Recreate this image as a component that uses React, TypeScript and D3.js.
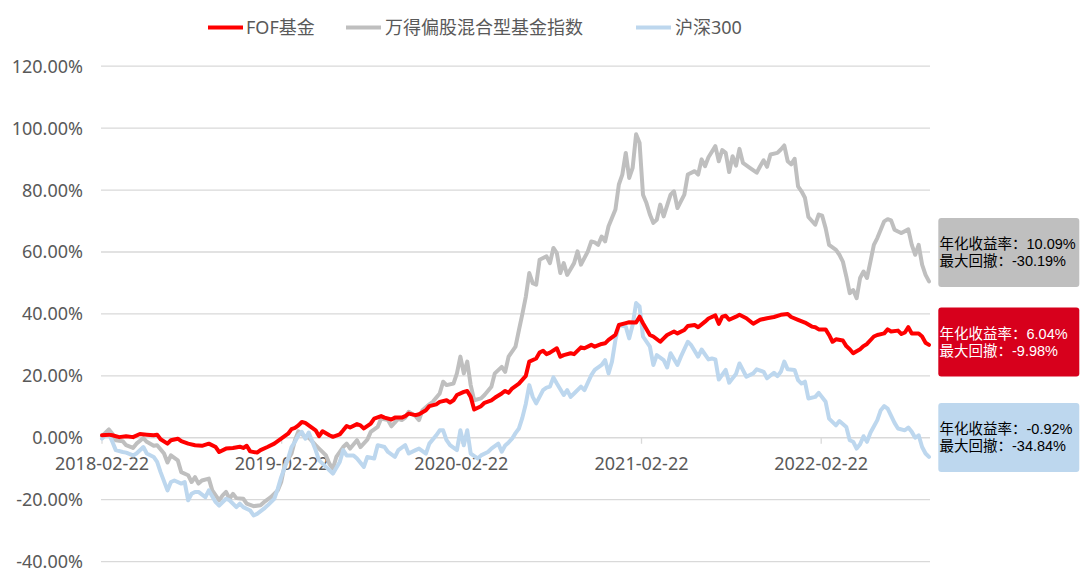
import React from 'react';
import * as d3 from 'd3';

// ---------- data ----------
const seriesNames = ['FOF基金', '万得偏股混合型基金指数', '沪深300'];
const seriesColors = ['#ff0000', '#bfbfbf', '#bdd7ee'];
const startDate = '2018-02-22';
const xTickLabels = ['2018-02-22', '2019-02-22', '2020-02-22', '2021-02-22', '2022-02-22'];
const yTickValues = [-40, -20, 0, 20, 40, 60, 80, 100, 120];

// [weeks since 2018-02-22, cumulative return %]
const fofSeries: [number, number][] = [
  [0,0.8],[2,1.0],[3,0.8],[5,0.2],[7,0.5],[9,0.2],[11,1.2],[13,1.0],[15,0.8],[16,1.0],[17,-0.5],[19,-1.9],[20,-0.8],[22,-0.3],[23,-1.1],[25,-1.9],[27,-2.4],[29,-2.6],[31,-1.9],[33,-3.0],[34,-4.6],[36,-3.5],[38,-3.3],[40,-2.9],[41,-3.3],[42,-2.6],[43,-4.4],[45,-4.8],[46,-4.0],[48,-3.0],[50,-1.9],[52,-0.3],[54,1.3],[55,2.8],[56,3.2],[57,4.0],[58,5.1],[59,4.8],[60,4.0],[62,2.4],[63,0.5],[64,2.1],[66,0.8],[67,0.3],[69,1.1],[70,2.4],[71,3.8],[72,3.3],[74,4.4],[75,4.0],[76,3.0],[78,4.6],[79,6.2],[81,7.0],[82,6.5],[84,5.9],[85,6.5],[87,6.5],[88,7.0],[89,7.8],[91,7.3],[92,7.6],[94,8.9],[95,10.2],[97,10.8],[98,11.6],[100,12.1],[101,11.4],[102,12.1],[103,13.8],[105,14.8],[106,15.1],[107,13.2],[108,9.1],[110,10.2],[111,11.3],[113,12.1],[114,12.9],[116,14.3],[117,15.1],[118,14.5],[119,15.9],[121,17.5],[123,20.0],[124,24.6],[126,25.6],[127,27.5],[128,28.1],[129,27.0],[130,27.5],[132,28.9],[133,26.2],[134,26.7],[136,27.3],[137,27.0],[139,29.2],[140,28.9],[142,30.0],[143,29.4],[145,30.3],[146,30.5],[147,31.6],[149,33.2],[150,36.4],[152,37.0],[153,37.3],[155,37.2],[156,39.1],[157,37.0],[159,33.2],[160,32.7],[162,31.0],[163,32.1],[164,33.2],[166,34.3],[167,33.7],[169,34.8],[170,36.1],[172,36.4],[173,35.7],[175,37.5],[176,38.5],[178,39.5],[179,36.8],[180,39.1],[181,39.4],[182,38.1],[184,39.1],[185,39.7],[187,38.6],[189,36.8],[191,38.1],[193,38.6],[195,39.0],[197,39.7],[199,40.0],[200,39.0],[202,38.1],[204,37.2],[206,35.9],[207,35.7],[208,35.0],[210,35.0],[211,33.2],[212,31.0],[213,31.8],[215,31.4],[216,29.6],[217,28.6],[218,27.3],[220,28.6],[221,29.6],[222,30.3],[224,32.7],[225,33.2],[227,33.7],[228,35.0],[229,34.3],[231,34.6],[232,33.5],[233,34.0],[234,35.7],[235,33.7],[237,33.7],[238,32.7],[239,30.7],[240,30.0]
];

const windSeries: [number, number][] = [
  [0,0.5],[2,2.7],[3,1.3],[4,-0.8],[6,-1.1],[7,-2.4],[9,-3.3],[10,-1.9],[12,-0.1],[13,-1.3],[15,-2.6],[16,-2.4],[18,-5.1],[19,-8.0],[20,-5.7],[22,-7.3],[23,-11.1],[25,-12.1],[26,-14.3],[27,-12.7],[28,-14.8],[29,-13.8],[31,-13.2],[32,-17.0],[34,-20.2],[35,-18.6],[36,-17.5],[37,-19.7],[38,-18.1],[39,-19.5],[41,-19.7],[42,-21.3],[44,-22.1],[46,-21.8],[47,-20.8],[49,-19.2],[51,-17.0],[52,-14.3],[53,-8.9],[55,-5.1],[56,-0.8],[57,2.1],[59,0.3],[60,0.0],[61,-1.2],[62,-2.4],[63,-3.5],[65,-5.7],[66,-8.4],[67,-10.0],[68,-6.2],[70,-3.0],[71,-1.9],[72,-3.5],[74,-0.8],[75,-3.0],[77,-0.6],[78,1.9],[80,3.5],[81,6.2],[83,5.7],[84,3.7],[86,6.2],[87,5.7],[88,6.5],[89,8.4],[91,7.0],[92,5.7],[93,8.9],[95,10.8],[96,11.6],[98,14.3],[99,18.1],[100,17.0],[102,17.5],[103,20.8],[104,26.2],[105,20.8],[106,24.6],[107,17.0],[108,12.1],[110,12.7],[111,13.8],[113,16.5],[114,20.8],[116,22.9],[117,21.3],[118,26.2],[120,29.4],[121,34.8],[122,40.0],[123,45.6],[124,53.2],[125,49.9],[126,49.4],[127,57.5],[129,58.6],[130,56.4],[131,61.3],[132,59.6],[133,53.2],[134,56.4],[135,52.6],[137,56.4],[138,60.2],[139,55.9],[141,60.2],[142,63.4],[143,63.1],[144,62.3],[145,65.0],[146,63.4],[147,68.3],[149,73.7],[150,81.8],[151,85.0],[152,92.0],[153,83.9],[154,87.2],[155,98.0],[156,95.3],[157,78.5],[158,75.8],[159,72.1],[160,69.4],[161,70.4],[162,75.3],[163,71.5],[165,78.5],[166,79.6],[167,74.2],[169,78.5],[170,85.0],[172,86.1],[173,85.0],[174,89.9],[175,87.7],[176,90.6],[178,94.2],[179,89.3],[180,92.9],[181,92.0],[182,85.8],[183,90.9],[184,87.9],[185,93.3],[186,88.8],[188,87.2],[190,85.6],[191,87.7],[192,89.6],[193,87.5],[194,91.5],[196,92.0],[197,93.1],[198,94.4],[199,89.3],[200,88.3],[201,90.1],[202,81.2],[203,79.6],[204,77.5],[205,71.3],[207,68.8],[208,72.1],[209,71.7],[210,67.7],[211,62.3],[213,60.7],[214,59.1],[215,56.9],[216,52.1],[217,46.7],[218,47.7],[219,45.1],[220,51.6],[221,53.7],[222,51.6],[223,56.9],[224,62.3],[225,64.5],[227,69.9],[228,70.6],[229,70.2],[230,67.2],[231,66.6],[232,66.1],[234,67.3],[235,62.3],[236,59.1],[237,62.3],[238,55.9],[239,52.6],[240,50.5]
];

const hs300Series: [number, number][] = [
  [0,-0.3],[1,0.8],[2,1.3],[3,-1.3],[4,-4.0],[6,-4.6],[7,-4.8],[9,-5.7],[10,-5.1],[12,-3.0],[13,-5.1],[15,-6.2],[16,-7.8],[17,-11.1],[19,-17.0],[20,-14.3],[21,-13.8],[23,-14.8],[24,-14.3],[25,-20.2],[26,-18.1],[27,-17.5],[28,-17.5],[30,-19.2],[31,-17.0],[33,-20.8],[34,-21.9],[36,-19.7],[37,-20.2],[39,-22.4],[40,-21.3],[41,-22.4],[43,-23.5],[44,-25.1],[45,-24.6],[47,-22.9],[48,-21.9],[50,-19.7],[51,-16.5],[52,-12.7],[54,-6.7],[55,-3.0],[56,-1.3],[57,0.8],[58,1.9],[59,-0.3],[60,1.7],[62,-4.0],[63,-7.3],[65,-9.4],[66,-10.5],[67,-11.6],[69,-7.8],[70,-4.0],[71,-5.7],[73,-5.7],[74,-6.7],[76,-9.4],[77,-6.2],[79,-6.7],[80,-2.4],[82,-3.0],[83,-4.6],[85,-6.2],[86,-4.0],[88,-2.4],[89,-5.1],[91,-4.0],[92,-3.5],[94,-5.1],[95,-1.9],[97,0.8],[98,2.4],[99,2.4],[100,-0.8],[101,-2.4],[103,-4.0],[104,2.4],[105,-2.4],[106,2.4],[107,-5.1],[109,-6.7],[110,-5.7],[112,-4.6],[113,-3.5],[115,-1.9],[116,-4.5],[117,-2.5],[118,-1.5],[119,-0.3],[120,1.5],[121,3.0],[122,6.5],[123,11.0],[124,17.0],[125,13.2],[126,11.1],[128,15.4],[129,16.2],[130,16.5],[131,19.5],[132,17.5],[134,13.8],[135,15.4],[136,13.2],[137,14.3],[139,16.5],[140,15.4],[142,20.2],[143,21.9],[145,23.5],[146,25.1],[147,20.8],[148,24.6],[149,31.6],[150,36.4],[152,35.9],[153,32.1],[154,36.4],[155,43.5],[156,42.4],[157,32.7],[159,29.4],[160,23.5],[161,26.7],[163,25.1],[164,22.7],[165,27.3],[167,23.5],[168,26.2],[170,31.0],[171,29.9],[173,26.2],[174,28.5],[176,25.3],[177,25.6],[178,25.3],[179,18.8],[181,21.9],[182,17.8],[183,19.2],[184,20.6],[185,24.0],[187,19.7],[189,20.8],[190,22.1],[192,21.3],[193,19.2],[195,21.0],[196,19.9],[197,21.3],[198,24.6],[199,22.1],[201,21.9],[202,18.6],[203,17.5],[204,18.1],[205,12.7],[207,13.2],[208,14.5],[210,11.6],[211,6.2],[213,4.0],[214,5.4],[216,3.5],[217,-0.8],[218,-1.3],[219,-3.5],[220,-2.1],[221,0.5],[222,-1.3],[223,1.6],[225,5.7],[226,8.9],[227,10.2],[228,9.4],[230,4.8],[231,3.0],[233,2.4],[234,3.3],[235,1.9],[236,0.0],[237,0.8],[238,-3.0],[239,-5.1],[240,-6.2]
];

// stat boxes (order: 万得, FOF, 沪深300)
const boxLabelsReturn = ['年化收益率：10.09%', '年化收益率：6.04%', '年化收益率：-0.92%'];
const boxLabelsDrawdown = ['最大回撤：-30.19%', '最大回撤：-9.98%', '最大回撤：-34.84%'];
const boxFills = ['#bfbfbf', '#d7001c', '#bdd7ee'];
const boxTextColors = ['#000000', '#ffffff', '#000000'];

// ---------- chart ----------
const W = 1080;
const H = 583;
const FONT = '"Noto Sans", "Noto Sans CJK SC", sans-serif';
const BOX_FONT = '"Liberation Sans", Arial, "Noto Sans CJK SC", sans-serif';

export default function App() {
  const parse = d3.timeParse('%Y-%m-%d');
  const start = parse(startDate) as Date;
  const toDate = (w: number) => d3.timeDay.offset(start, w * 7);
  const lastWeek = fofSeries[fofSeries.length - 1][0];

  const x = d3.scaleTime().domain([start, toDate(lastWeek)]).range([102, 929]);
  const y = d3.scaleLinear().domain([-40, 120]).range([561.6, 66.2]);

  const line = d3
    .line<[number, number]>()
    .x((d) => x(toDate(d[0])))
    .y((d) => y(d[1]));

  const gridX0 = 101;
  const gridX1 = 930;

  const seriesData = [fofSeries, windSeries, hs300Series];
  const drawOrder = [1, 2, 0];

  const legendItems = [
    { lx: 208, tx: 246 },
    { lx: 346, tx: 385 },
    { lx: 636, tx: 675 },
  ];

  const boxTops = [218, 307.5, 403];
  const boxH = 69;

  return (
    <div style={{ position: 'absolute', left: 0, top: 0 }}>
      <svg width={W} height={H} style={{ display: 'block', background: '#fff' }}>
        {/* grid */}
        {yTickValues.map((v) => (
          <g key={v}>
            <line x1={gridX0} x2={gridX1} y1={y(v)} y2={y(v)} stroke="#d9d9d9" strokeWidth={1.3} />
            <text
              x={83}
              y={y(v) + 6.5}
              textAnchor="end"
              fontFamily={FONT}
              fontSize={18}
              fill="#595959"
            >
              {v.toFixed(2) + '%'}
            </text>
          </g>
        ))}
        {/* x ticks */}
        {xTickLabels.map((t) => {
          const xx = x(parse(t) as Date);
          return (
            <g key={t}>
              <line x1={xx} x2={xx} y1={y(0)} y2={y(0) + 6} stroke="#d9d9d9" strokeWidth={1.3} />
              <text x={xx} y={470} textAnchor="middle" fontFamily={FONT} fontSize={18} fill="#595959">
                {t}
              </text>
            </g>
          );
        })}
        {/* series */}
        {drawOrder.map((i) => (
          <path
            key={i}
            d={line(seriesData[i]) || ''}
            fill="none"
            stroke={seriesColors[i]}
            strokeWidth={4}
            strokeLinejoin="round"
            strokeLinecap="round"
          />
        ))}
        {/* legend */}
        {legendItems.map((it, i) => (
          <g key={i}>
            <line x1={it.lx} x2={it.lx + 35} y1={27.5} y2={27.5} stroke={seriesColors[i]} strokeWidth={4} />
            <text x={it.tx} y={33.5} fontFamily={FONT} fontSize={18} fill="#595959">
              {seriesNames[i]}
            </text>
          </g>
        ))}
        {/* stat boxes */}
        {boxTops.map((top, i) => (
          <g key={i}>
            <rect x={938.3} y={top} width={141} height={boxH} rx={3} ry={3} fill={boxFills[i]} />
            <text x={939.5} y={top + 31} fontFamily={BOX_FONT} fontSize={14.5} fill={boxTextColors[i]}>
              {boxLabelsReturn[i]}
            </text>
            <text x={939.5} y={top + 48} fontFamily={BOX_FONT} fontSize={14.5} fill={boxTextColors[i]}>
              {boxLabelsDrawdown[i]}
            </text>
          </g>
        ))}
      </svg>
    </div>
  );
}
